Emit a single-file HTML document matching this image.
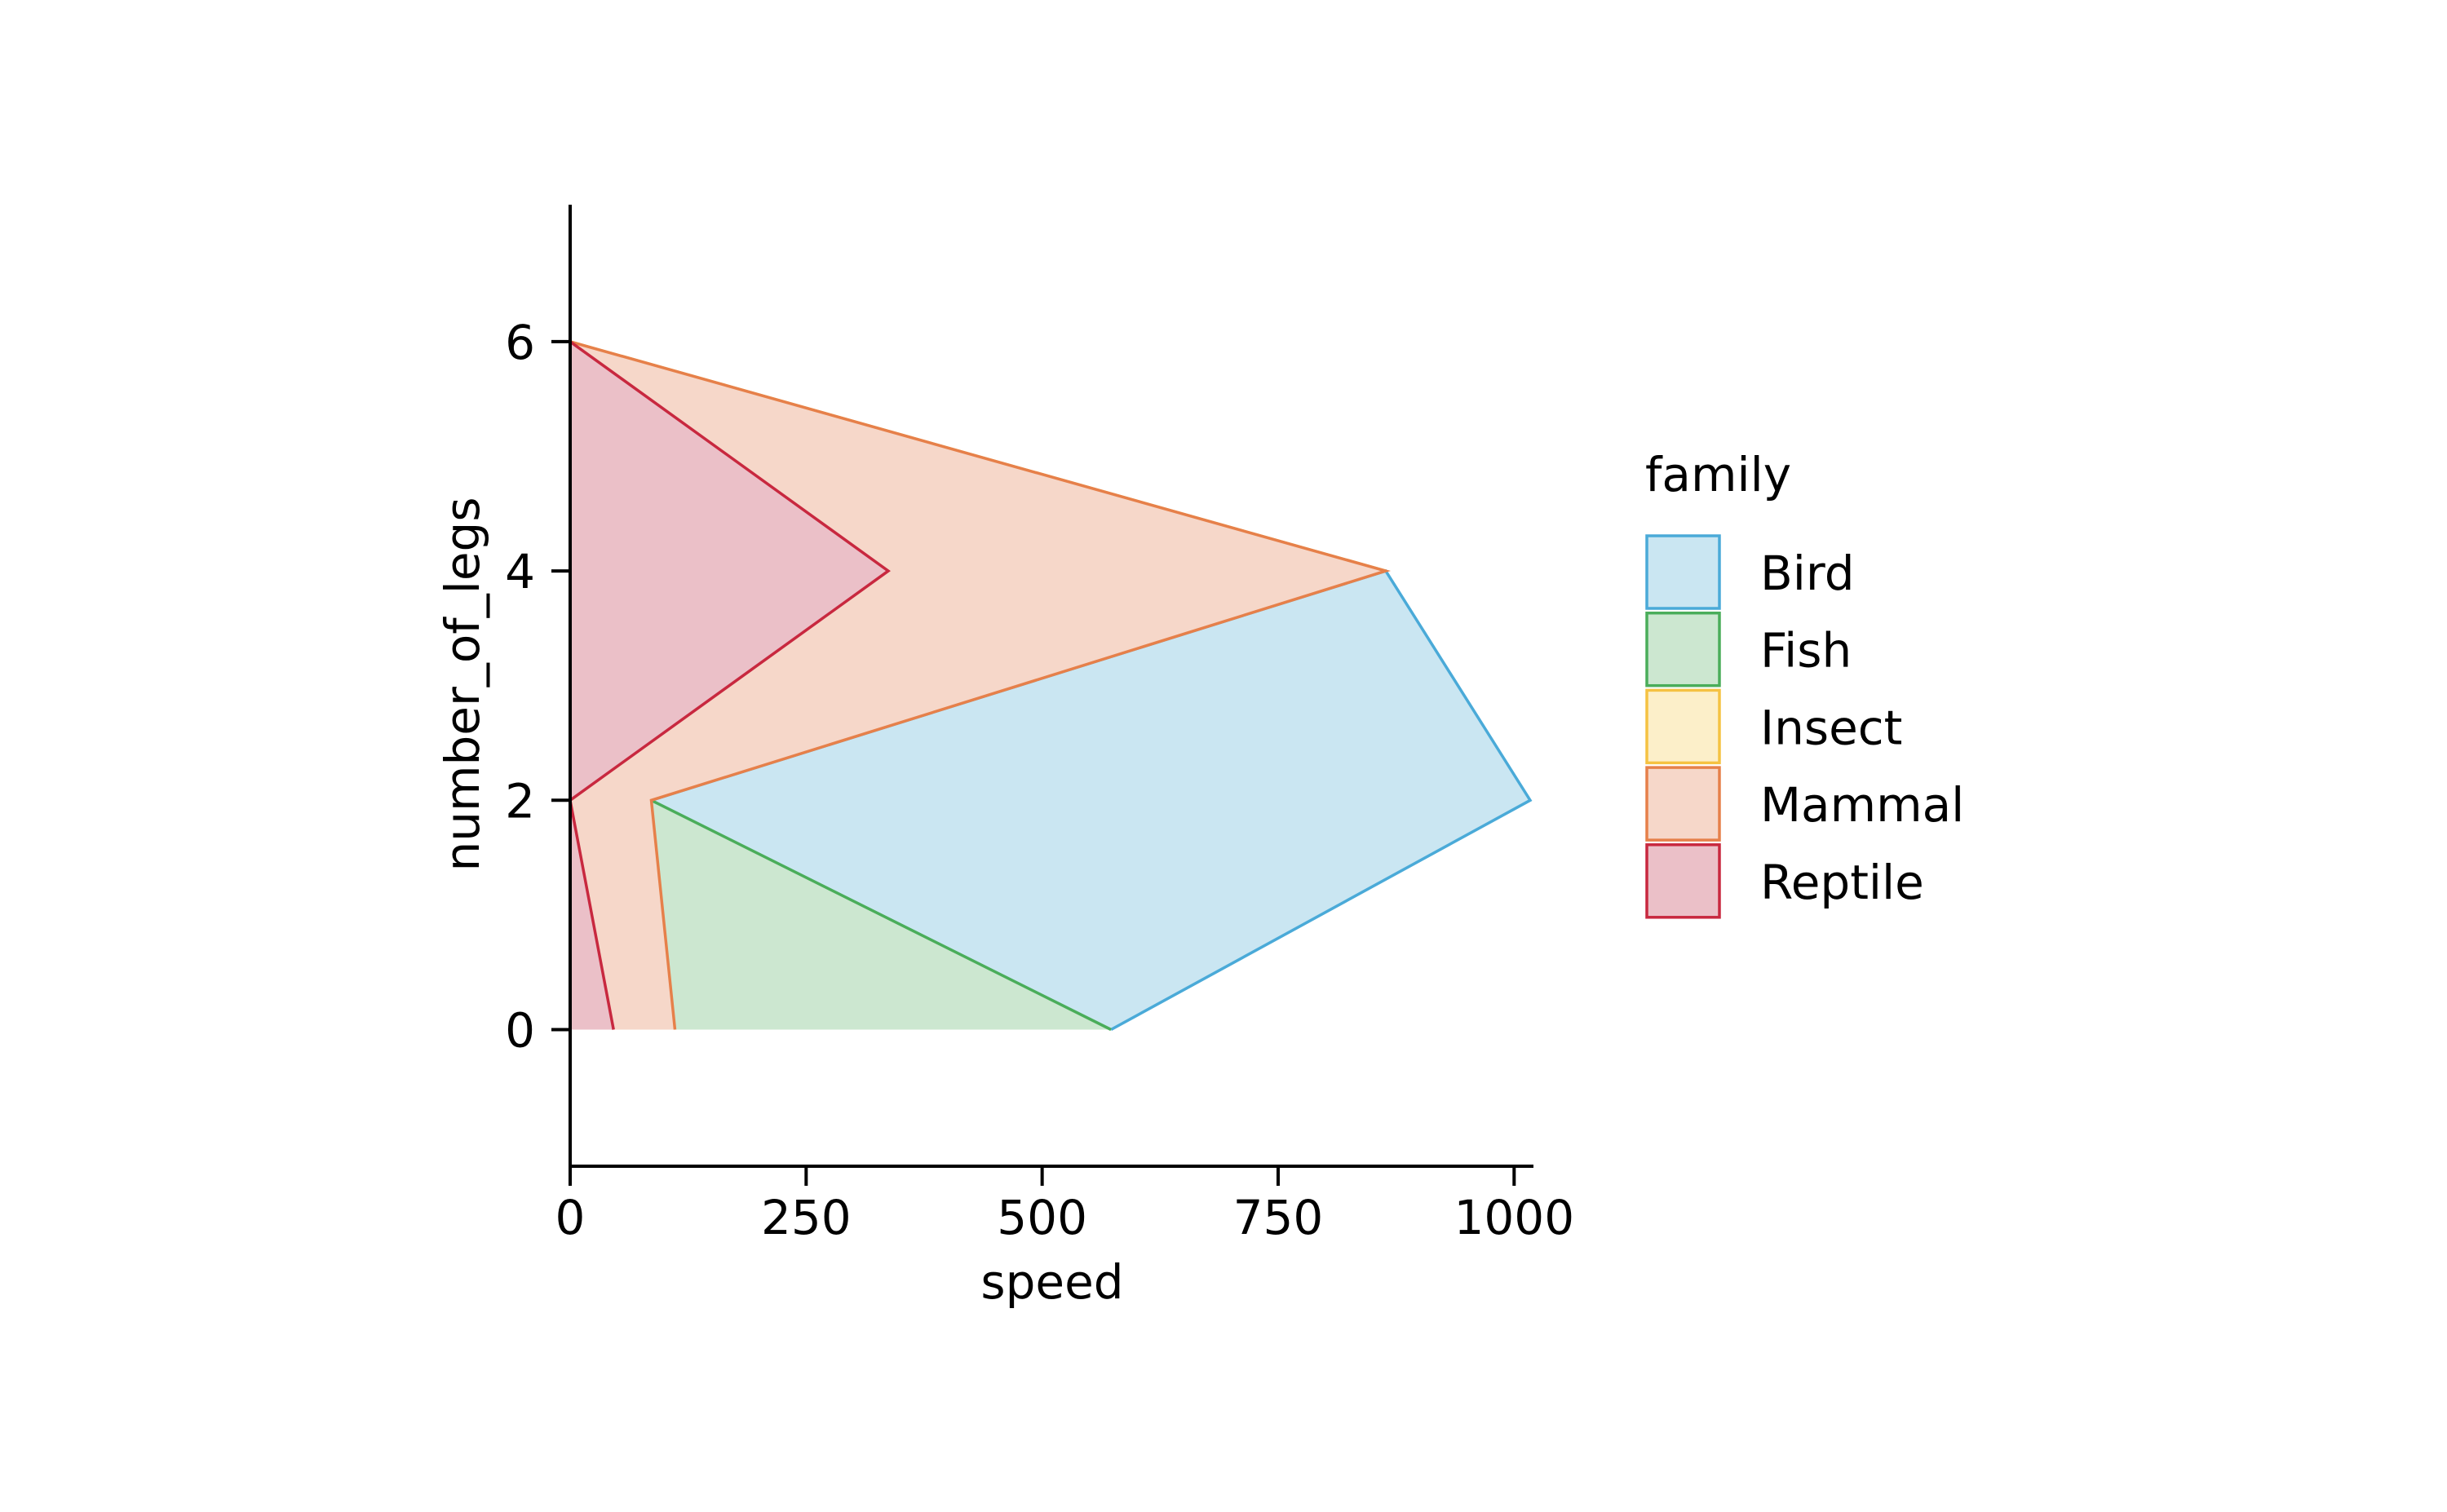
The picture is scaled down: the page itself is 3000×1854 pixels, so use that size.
<!DOCTYPE html>
<html><head><meta charset="utf-8"><style>
html,body{margin:0;padding:0;background:#fff;}
svg{display:block;font-family:"DejaVu Sans","Liberation Sans",sans-serif;}
</style></head><body>
<svg id="chart" width="3000" height="1854" viewBox="0 0 3000 1854" xmlns="http://www.w3.org/2000/svg">
<rect width="3000" height="1854" fill="#fff"/>
<g id="plot"></g>
<g id="axes"></g>
<g id="legend"></g>
</svg>
<script>
const families = ["Bird","Fish","Insect","Mammal","Reptile"];
const strokeColors = ["#4aaad8","#4aad5a","#f5c242","#e6804a","#c8283f"];
const fillColors = ["#cae6f2","#cce7d0","#fcefc9","#f6d7c9","#ebc0c8"];
const birdX = [86,864,1017,573];
const birdY = [2,4,2,0];
const fishX = [86,573,111];
const fishY = [2,0,0];
const insectX = [0,864];
const insectY = [6,4];
const mammalX = [0,864,86,111,0];
const mammalY = [6,4,2,0,0];
const reptileX = [0,337,0,46,0];
const reptileY = [6,4,2,0,0];
const xTicks = [0,250,500,750,1000];
const yTicks = [0,2,4,6];

const NS="http://www.w3.org/2000/svg";
function xs(v){return 699+v*1.1573;}
function ys(v){return 1262.5-v*140.6;}
function mk(tag,attrs,parent){const e=document.createElementNS(NS,tag);for(const k in attrs)e.setAttribute(k,attrs[k]);parent.appendChild(e);return e;}
const plot=document.getElementById('plot'),axes=document.getElementById('axes'),legend=document.getElementById('legend');
const seriesX=[birdX,fishX,insectX,mammalX,reptileX];
const seriesY=[birdY,fishY,insectY,mammalY,reptileY];
for(let i=0;i<families.length;i++){
  const X=seriesX[i],Y=seriesY[i];
  const pts=X.map((x,j)=>xs(x).toFixed(1)+","+ys(Y[j]).toFixed(1));
  const p=mk('polygon',{points:pts.join(" "),fill:fillColors[i],stroke:'none'},plot);
  
  
  let end=X.length;
  for(let j=0;j<Y.length;j++){if(Y[j]===0){end=j+1;break;}}
  const l=mk('polyline',{points:pts.slice(0,end).join(" "),fill:'none',stroke:strokeColors[i],'stroke-width':3.5,'stroke-linejoin':'miter'},plot);
  
  
}
const ls=mk('line',{x1:699,y1:251,x2:699,y2:1431,stroke:'#000','stroke-width':4},axes);


const bs=mk('line',{x1:697,y1:1430,x2:1880,y2:1430,stroke:'#000','stroke-width':4},axes);


for(const t of xTicks){
  const x=xs(t);
  const tl=mk('line',{x1:x,y1:1430,x2:x,y2:1454,stroke:'#000','stroke-width':4},axes);
  
  
  const tx=mk('text',{x:x,y:1513,'font-size':58,'text-anchor':'middle',fill:'#000'},axes);
  tx.textContent=t;
  
  
}
for(const t of yTicks){
  const y=ys(t);
  const tl=mk('line',{x1:676,y1:y,x2:699,y2:y,stroke:'#000','stroke-width':4},axes);
  
  
  const tx=mk('text',{x:656,y:y+21,'font-size':58,'text-anchor':'end',fill:'#000'},axes);
  tx.textContent=t;
  
  
}
const xl=mk('text',{x:1290,y:1592,'font-size':58,'text-anchor':'middle',fill:'#000'},axes);
xl.textContent='speed';


const yl=mk('text',{x:0,y:0,'font-size':58,'text-anchor':'middle',fill:'#000',transform:'translate(587,839) rotate(-90)'},axes);
yl.textContent='number_of_legs';


const lt=mk('text',{x:2017,y:602,'font-size':58,fill:'#000'},legend);
lt.textContent='family';


for(let i=0;i<families.length;i++){
  const top=657+i*94.7;
  const r=mk('rect',{x:2019,y:top,width:89,height:89,fill:fillColors[i],stroke:strokeColors[i],'stroke-width':3.5},legend);
  
  
  const t=mk('text',{x:2158,y:top+66,'font-size':58,fill:'#000'},legend);
  t.textContent=families[i];
  
  
}
</script>
</body></html>
